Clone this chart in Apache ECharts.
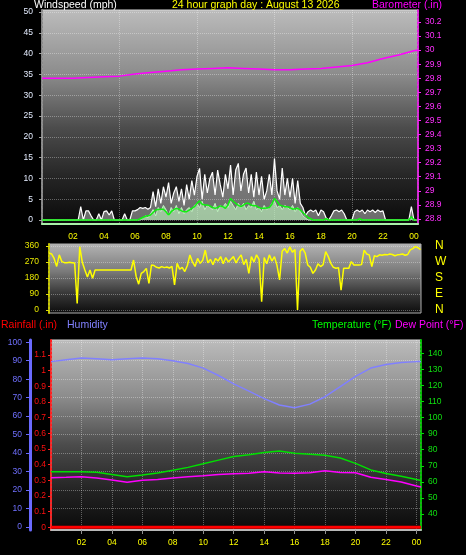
<!DOCTYPE html>
<html><head><meta charset="utf-8">
<script src="https://cdn.jsdelivr.net/npm/echarts@6/dist/echarts.min.js"></script>
<style>html,body{margin:0;padding:0;background:#000;}#c{width:466px;height:555px;}</style>
</head><body><div id="c"></div>
<script>
// ---- tick labels ----
const hourTicks = [2,4,6,8,10,12,14,16,18,20,22,24];
const windTicks = [0,5,10,15,20,25,30,35,40,45,50];
const baroTicks = [28.8,28.9,29.0,29.1,29.2,29.3,29.4,29.5,29.6,29.7,29.8,29.9,30.0,30.1,30.2];
const dirTicks = [0,90,180,270,360];
const dirLetters = ['N','E','S','W','N'];
const rainTicks = [0,0.1,0.2,0.3,0.4,0.5,0.6,0.7,0.8,0.9,1.0,1.1];
const humTicks = [0,10,20,30,40,50,60,70,80,90,100];
const tempTicks = [40,50,60,70,80,90,100,110,120,130,140];

// ---- wind (10-minute samples, starting 00:00) ----
const windStep = 1/6;
const windGust = [
 0,0,0,0,0,0,
 0,0,0,0,0,0,
 0,0,0,3.2,0,2.2,
 2.2,1.0,0,0,1.5,0,
 2.0,2.2,1.2,2.2,0,0,
 0,0,1.5,0,0,2.2,
 2.2,2.5,3.0,2.8,3.0,2.6,
 3.0,6.8,3.2,7.5,4.0,8.0,
 5.5,9.0,4.0,6.5,8.0,4.5,
 7.5,3.5,8.5,5.0,9.5,6.0,
 10.5,12.4,5.0,11.0,6.5,10.0,
 11.5,6.0,12.0,8.5,5.5,11.0,
 7.5,13.2,6.0,12.0,13.6,7.0,
 11.0,12.5,6.5,11.0,5.5,11.5,
 6.0,10.5,5.0,7.0,11.0,6.0,
 14.8,7.0,5.0,12.5,6.0,10.0,
 5.5,10.0,4.0,9.5,4.0,3.0,
 1.0,2.0,2.4,2.0,2.4,1.0,
 2.4,2.0,0.5,0,1.0,2.2,
 2.4,2.0,2.4,1.5,0,0,
 0,2.0,2.4,2.0,2.4,1.5,
 2.4,2.0,2.4,1.8,2.4,2.0,
 2.2,0,0,0,0,0,
 0,0,0,0,0,3.2,
 0,0
];
const windAvg = [
 0,0,0,0,0,0, 0,0,0,0,0,0, 0,0,0,0,0,0, 0,0,0,0,0,0, 0,0,0,0,0,0, 0,0,0,0,0,0,
 0,0,0,0.5,1.0,0.5,
 1.5,2.5,1.0,3.0,2.0,3.5,
 2.5,1.0,3.0,2.0,3.5,1.5,
 3.0,1.5,2.5,3.0,2.0,3.5,
 4.0,3.0,4.5,2.5,3.5,3.0,
 2.5,4.0,2.0,3.5,3.0,4.0,
 3.0,4.5,3.5,2.5,4.0,3.0,
 4.0,2.5,3.5,3.0,4.5,2.5,
 3.0,2.0,3.5,2.5,3.0,4.0,
 4.5,3.0,3.5,2.5,3.5,3.0,
 2.5,3.5,2.0,3.0,2.0,1.0,
 0.5,0,0,0,0,0,
 0,0,0,0,0,0, 0,0,0,0,0,0, 0,0,0,0,0,0, 0,0,0,0,0,0, 0,0,0,0,0,0,
 0,0,0,0,0,0.5,
 0,0
];
const windAvgLine = [
 0,0,0,0,0,0, 0,0,0,0,0,0, 0,0,0,0,0,0, 0,0,0,0,0,0, 0,0,0,0,0,0, 0,0,0,0,0,0,
 0,0,0.3,0.6,0.9,1.0,
 1.2,1.8,2.4,2.5,2.6,2.6,
 2.0,1.2,2.0,2.5,2.8,2.6,
 2.2,2.0,2.0,2.4,2.8,3.2,
 4.0,4.6,3.8,3.6,3.6,3.4,
 3.0,2.8,3.0,3.4,3.2,2.8,
 3.6,5.2,4.5,4.0,3.5,3.2,
 3.6,4.0,4.0,3.6,3.4,3.4,
 3.0,2.8,2.8,2.9,3.0,3.8,
 5.2,4.5,3.6,3.4,3.2,3.2,
 3.0,2.6,2.7,2.8,2.4,1.8,
 1.2,0.6,0.3,0,0,0,
 0,0,0.3,0,0,0,
 0,0,0,0,0,0,
 0,0,0,0.3,0,0,
 0,0,0,0,0,0, 0,0,0,0,0,0,
 0,0,0,0,0,0.8,
 0,0
];

// ---- barometer ----
const baroHours = [0,1,2,3,4,5,6,7,8,9,10,11,12,13,14,15,16,17,18,19,20,21,22,23,24,24.26];
const baroValues = [29.80,29.80,29.80,29.805,29.81,29.815,29.83,29.84,29.85,29.86,29.865,29.87,29.875,29.87,29.865,29.86,29.86,29.865,29.87,29.88,29.89,29.91,29.94,29.965,29.995,30.0];

// ---- wind direction (10-minute samples) ----
const dirValues = [
 320,315,290,245,310,272,
 266,265,268,266,264,37,
 356,268,225,185,225,178,
 225,225,225,225,225,225,
 225,225,225,225,225,225,
 225,225,225,281,190,145,
 206,216,234,150,253,250,
 240,236,244,238,242,236,
 245,141,262,230,240,216,
 250,309,270,245,290,262,
 280,337,265,285,255,290,
 275,300,260,295,270,285,
 300,265,290,310,255,285,
 206,300,270,310,285,47,
 295,260,310,275,300,250,
 169,330,345,320,355,325,
 340,0,330,345,320,253,
 240,206,225,260,244,255,
 328,300,262,240,235,238,
 112,234,234,234,272,253,
 253,253,255,337,315,310,
 244,305,300,310,308,312,
 310,315,312,305,310,312,
 315,308,312,338,345,356,
 350,340
];

// ---- temperature / humidity / dew point (hourly) ----
const climHours = [0,1,2,3,4,5,6,7,8,9,10,11,12,13,14,15,16,17,18,19,20,21,22,23,24,24.3];
const humidity = [89.5,90.5,91.5,91,90.5,91,91.5,91,90,88.5,86,82,77.5,73.5,69.5,66,64.5,66.5,70.5,76,81.5,86,88,89,89.5,89.5];
const temperature = [66.3,66.2,66.3,65.9,64.6,63.2,64.3,65.5,67.2,69.0,71.2,73.5,75.7,76.8,78.2,79.2,77.8,77.2,76.5,74.8,71.5,67.4,65.2,63.5,61.4,60.8];
const dewPoint = [62.5,62.8,63.2,62.4,61.2,59.8,61.0,61.5,62.4,63.2,63.8,64.5,65.0,65.4,66.2,65.5,65.3,65.6,66.9,65.8,65.6,62.8,61.4,59.9,57.4,56.8];
const rainHours = [0,6,12,18,24,24.3];
const rainfall = [0,0,0,0,0,0];
const sunHours = [6.3, 20.13];

const FONT = 'Liberation Sans';
const TFONT = '10.5px "Liberation Sans"';
const fmtHour = v => String(Math.round(v) % 24).padStart(2, '0');
const grad = stops => ({type:'linear', x:0, y:0, x2:0, y2:1, colorStops: stops.map(s => ({offset:s[0], color:s[1]}))});
const gridLine = {show:true, lineStyle:{color:'rgba(255,255,255,0.33)', type:'dotted', width:1}};
const lbl = (extra) => Object.assign({fontFamily:FONT, fontSize:8.5}, extra);

const chart = echarts.init(document.getElementById('c'), null, {renderer:'canvas'});
chart.setOption({
  backgroundColor:'#000',
  animation:false,
  grid:[
    {left:42, top:10, width:376, height:214, show:true, borderColor:'#d8d8d8', borderWidth:1,
     backgroundColor: grad([[0,'#bcbcbc'],[0.3,'#8c8c8c'],[0.55,'#4c4c4c'],[0.8,'#222222'],[1,'#0a0a0a']])},
    {left:49, top:244, width:372, height:69, show:true, borderColor:'#b0b0b0', borderWidth:1,
     backgroundColor: grad([[0,'#b4b4b4'],[0.4,'#7a7a7a'],[0.7,'#3a3a3a'],[1,'#0c0c0c']])},
    {left:51, top:340, width:370, height:190, show:true, borderColor:'#d8d8d8', borderWidth:1,
     backgroundColor: grad([[0,'#bcbcbc'],[0.3,'#8c8c8c'],[0.55,'#4c4c4c'],[0.8,'#222222'],[1,'#0a0a0a']])}
  ],
  xAxis:[
    {gridIndex:0, type:'value', min:0, max:24.26,
     axisLine:{show:true, onZero:false, lineStyle:{color:'#a8f0a8', width:2}},
     axisTick:{show:false},
     axisLabel:lbl({customValues:hourTicks, formatter:fmtHour, color:'#ffff00', margin:8}),
     splitLine:gridLine},
    {gridIndex:1, type:'value', min:0, max:24.2,
     axisLine:{show:false}, axisTick:{show:false}, axisLabel:{show:false}, splitLine:{show:false}},
    {gridIndex:2, type:'value', min:0, max:24.3,
     axisLine:{show:true, onZero:false, lineStyle:{color:'#b8b8b8', width:2}},
     axisTick:{show:true, customValues:hourTicks, length:4, lineStyle:{color:'#909090'}},
     axisLabel:lbl({customValues:hourTicks, formatter:fmtHour, color:'#ffff00', margin:8}),
     splitLine:gridLine}
  ],
  yAxis:[
    {gridIndex:0, type:'value', position:'left', min:-0.96, max:50.48,
     axisLine:{show:true, lineStyle:{color:'#8a8a8a', width:2, type:[2,2]}},
     axisTick:{show:true, customValues:windTicks, length:3, lineStyle:{color:'#a0a0a0'}},
     axisLabel:lbl({customValues:windTicks, color:'#e4ecff', margin:9}),
     splitLine:gridLine},
    {gridIndex:0, type:'value', position:'right', min:28.764, max:30.285,
     axisLine:{show:true, lineStyle:{color:'#e020e0', width:2, type:[2,2]}},
     axisTick:{show:true, customValues:baroTicks, length:3, lineStyle:{color:'#ff20ff'}},
     axisLabel:lbl({customValues:baroTicks, color:'#ff30ff', margin:7, formatter: v => String(parseFloat(v.toFixed(1)))}),
     splitLine:{show:false}},
    {gridIndex:1, type:'value', position:'left', min:-17, max:371,
     axisLine:{show:true, lineStyle:{color:'#c8c800', width:2, type:[2,2]}},
     axisTick:{show:true, customValues:dirTicks, length:3, lineStyle:{color:'#e0e000'}},
     axisLabel:lbl({customValues:dirTicks, color:'#e8e800', margin:10}),
     splitLine:gridLine},
    {gridIndex:1, type:'value', position:'right', min:-17, max:371,
     axisLine:{show:false}, axisTick:{show:false},
     axisLabel:{customValues:dirTicks, color:'#ffff00', fontFamily:FONT, fontSize:12, margin:14,
                formatter: v => dirLetters[dirTicks.indexOf(Math.round(v))]},
     splitLine:{show:false}},
    {gridIndex:2, type:'value', position:'left', offset:0, min:-0.017, max:1.195,
     axisLine:{show:true, lineStyle:{color:'#ff2020', width:2, type:[2,2]}},
     axisTick:{show:true, customValues:rainTicks, length:3, lineStyle:{color:'#ff2020'}},
     axisLabel:lbl({customValues:rainTicks, color:'#ff1010', margin:5, formatter: v => String(parseFloat(v.toFixed(1)))}),
     splitLine:{show:false}},
    {gridIndex:2, type:'value', position:'left', offset:21, min:-1.6, max:101.2,
     axisLine:{show:true, lineStyle:{color:'#6a6aff', width:3}},
     axisTick:{show:true, customValues:humTicks, length:4, lineStyle:{color:'#6a6aff'}},
     axisLabel:lbl({customValues:humTicks, color:'#7070ff', margin:8}),
     splitLine:gridLine},
    {gridIndex:2, type:'value', position:'right', min:30, max:148.3,
     axisLine:{show:true, lineStyle:{color:'#00c000', width:2, type:[2,2]}},
     axisTick:{show:true, customValues:tempTicks, length:3, lineStyle:{color:'#00e000'}},
     axisLabel:lbl({customValues:tempTicks, color:'#10e010', margin:7}),
     splitLine:{show:false}}
  ],
  series:[
    {type:'line', xAxisIndex:0, yAxisIndex:0, symbol:'none', z:3,
     data: windGust.map((v,i)=>[i*windStep, v]),
     lineStyle:{color:'#ffffff', width:1.2}, areaStyle:{color:'rgba(235,235,235,0.62)', origin:0}},
    {type:'line', xAxisIndex:0, yAxisIndex:0, symbol:'none', z:4,
     data: windAvg.map((v,i)=>[i*windStep, v]),
     lineStyle:{color:'#c0f6c0', width:1}, areaStyle:{color:'rgba(190,246,190,0.9)', origin:0}},
    {type:'line', xAxisIndex:0, yAxisIndex:0, symbol:'none', z:5,
     data: windAvgLine.map((v,i)=>[i*windStep, v]),
     lineStyle:{color:'#10f010', width:1.5}},
    {type:'line', xAxisIndex:0, yAxisIndex:1, symbol:'none', z:6,
     data: baroHours.map((h,i)=>[h, baroValues[i]]),
     lineStyle:{color:'#ff00ff', width:1.5}},
    {type:'line', xAxisIndex:1, yAxisIndex:2, symbol:'none', z:5,
     data: dirValues.map((v,i)=>[i*windStep, v]),
     lineStyle:{color:'#ffff00', width:1.5}},
    {type:'line', xAxisIndex:2, yAxisIndex:4, symbol:'none', z:6,
     data: rainHours.map((h,i)=>[h, rainfall[i]]),
     lineStyle:{color:'#ff0000', width:3},
     markLine:{symbol:'none', silent:true, label:{show:false},
       lineStyle:{color:'#b4b400', width:2, type:'solid'},
       data: sunHours.map(h => [{coord:[h, -0.02]}, {coord:[h, 0.1]}])}},
    {type:'line', xAxisIndex:2, yAxisIndex:5, symbol:'none', z:5,
     data: climHours.map((h,i)=>[h, humidity[i]]),
     lineStyle:{color:'#8080ff', width:1.5}},
    {type:'line', xAxisIndex:2, yAxisIndex:6, symbol:'none', z:5,
     data: climHours.map((h,i)=>[h, temperature[i]]),
     lineStyle:{color:'#00e000', width:1.5}},
    {type:'line', xAxisIndex:2, yAxisIndex:6, symbol:'none', z:5,
     data: climHours.map((h,i)=>[h, dewPoint[i]]),
     lineStyle:{color:'#ff00ff', width:1.5}}
  ],
  graphic:[
    {type:'text', left:34, top:0, style:{text:'Windspeed (mph)', fill:'#ffffff', font:TFONT}},
    {type:'text', left:172, top:0, style:{text:'24 hour graph day : August 13 2026', fill:'#ffff00', font:TFONT}},
    {type:'text', left:372, top:0, style:{text:'Barometer (.in)', fill:'#ff00ff', font:TFONT}},
    {type:'text', left:1, top:320, style:{text:'Rainfall (.in)', fill:'#ff0000', font:TFONT}},
    {type:'text', left:67, top:320, style:{text:'Humidity', fill:'#8080ff', font:TFONT}},
    {type:'text', left:312, top:320, style:{text:'Temperature (°F)', fill:'#00ff00', font:TFONT}},
    {type:'text', left:395, top:320, style:{text:'Dew Point (°F)', fill:'#ff00ff', font:TFONT}}
  ]
});
</script>
</body></html>
